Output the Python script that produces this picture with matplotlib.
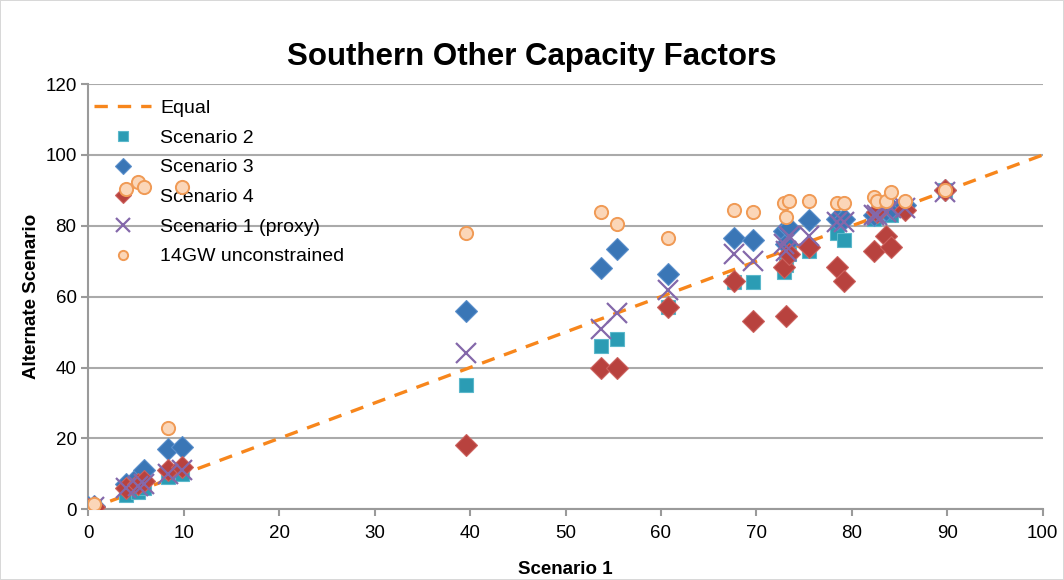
import numpy as np
import matplotlib.pyplot as plt

plt.rcParams['font.family'] = ['Liberation Sans', 'DejaVu Sans']

# Scenario 1 capacity factor (x) shared by every series
scen1 = [0.0, 0.6, 4.0, 5.2, 5.8, 8.4, 9.8, 39.6, 53.7, 55.4, 60.7, 67.7, 69.6,
         72.9, 73.1, 73.4, 75.5, 78.4, 79.2, 82.3, 82.6, 83.6, 84.1, 85.6, 89.8]

scen2 = [0.0, 0.5, 4.0, 5.0, 6.0, 9.0, 10.0, 35.0, 46.0, 48.0, 57.0, 64.0, 64.0,
         67.0, 69.0, 72.0, 73.0, 78.0, 76.0, 82.0, 83.0, 84.0, 83.0, 85.0, 90.0]
scen3 = [0.5, 1.0, 7.0, 9.0, 11.0, 17.0, 17.5, 56.0, 68.0, 73.5, 66.5, 76.5, 76.0,
         78.5, 75.0, 79.5, 81.5, 82.0, 82.0, 83.0, 84.0, 84.5, 85.0, 86.0, 90.0]
scen4 = [0.0, 0.5, 6.0, 7.0, 8.0, 11.0, 12.0, 18.0, 40.0, 40.0, 57.0, 64.5, 53.0,
         68.5, 54.5, 72.0, 74.0, 68.5, 64.5, 73.0, 84.0, 77.0, 74.0, 84.5, 90.0]
proxy = [0.0, 0.5, 6.0, 6.5, 7.0, 10.0, 11.0, 44.0, 51.0, 55.5, 62.0, 72.0, 70.0,
         75.0, 73.0, 77.0, 77.0, 81.0, 81.0, 83.0, 83.0, 84.0, 85.0, 85.0, 89.5]
gw14 = [0.5, 1.5, 90.5, 92.5, 91.0, 23.0, 91.0, 78.0, 84.0, 80.5, 76.5, 84.5, 84.0,
        86.5, 82.5, 87.0, 87.0, 86.5, 86.5, 88.0, 87.0, 87.0, 89.5, 87.0, 90.0]

equal_x = [0, 100]

fig = plt.figure(figsize=(10.64, 5.8), dpi=100)
fig.patch.set_edgecolor('#D8D8D8')
fig.patch.set_linewidth(1.2)
ax = fig.add_axes([0.083, 0.122, 0.897, 0.733])

ax.plot(equal_x, equal_x, linestyle=(0, (4, 3)), color='#F7861C', lw=2.4,
        label='Equal', zorder=2)
ax.plot(scen1, scen2, 's', ms=9.5, color='#2B9CB4', mec='#5BB8CB', mew=0.8,
        label='Scenario 2', zorder=3)
ax.plot(scen1, scen3, 'D', ms=11, color='#3A76B6', mec='#5A8FCB', mew=0.8,
        label='Scenario 3', zorder=4)
ax.plot(scen1, scen4, 'D', ms=11, color='#B8423E', mec='#CC625E', mew=0.8,
        label='Scenario 4', zorder=5)
ax.plot(scen1, proxy, 'x', ms=15, color='#8468AA', mew=1.6,
        label='Scenario 1 (proxy)', zorder=6)
ax.plot(scen1, gw14, 'o', ms=9.5, color='#FBD6B8', mec='#F09A55', mew=1.4,
        label='14GW unconstrained', zorder=7)

ax.set_xlim(0, 100)
ax.set_ylim(0, 120)
ax.set_xticks(np.arange(0, 101, 10))
ax.set_yticks(np.arange(0, 121, 20))
ax.grid(axis='y', color='#AAAAAA', lw=1.5)
ax.set_axisbelow(True)
for s in ['top', 'right']:
    ax.spines[s].set_visible(False)
for s in ['left', 'bottom']:
    ax.spines[s].set_color('#9A9A9A')
    ax.spines[s].set_linewidth(1.5)
ax.tick_params(axis='both', labelsize=13.5, color='#9A9A9A', width=1.5,
               length=5, direction='out')
ax.tick_params(axis='x', pad=6)

ax.set_xlabel('Scenario 1', fontsize=13.5, fontweight='bold', labelpad=14)
ax.set_ylabel('Alternate Scenario', fontsize=13.5, fontweight='bold', labelpad=4)
fig.suptitle('Southern Other Capacity Factors', fontsize=22.5, fontweight='bold',
             y=0.928)

ax.legend(loc='upper left', bbox_to_anchor=(-0.012, 1.005), frameon=False,
          fontsize=14, markerscale=0.7, labelspacing=0.62, handlelength=2.9,
          handletextpad=0.5)

fig.savefig('out.png', dpi=100)
